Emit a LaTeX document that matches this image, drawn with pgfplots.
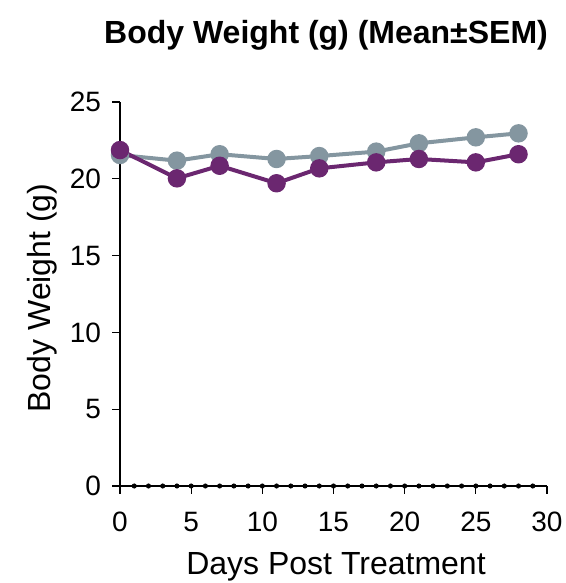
\documentclass[border=0pt]{standalone}
\usepackage{fontspec}
\setmainfont{Liberation Sans}
\usepackage{pgfplots}
\pgfplotsset{compat=1.18}
\definecolor{grayser}{HTML}{8496A0}
\definecolor{purpser}{HTML}{6B2770}
\begin{document}
\begin{tikzpicture}
\begin{axis}[
  at={(0pt,0pt)}, anchor=origin,
  scale only axis, width=213.5pt, height=192pt,
  xmin=0, xmax=30, ymin=0, ymax=25,
  axis x line*=bottom, axis y line*=left,
  axis line style={line width=0.6pt},
  xtick={0,5,...,30}, ytick={0,5,...,25},
  tick align=outside, major tick length=4pt,
  tick style={line width=0.6pt, black},
  tick label style={font=\fontsize{14}{16}\selectfont},
  xticklabel style={yshift=-5.5pt},
  yticklabel style={xshift=-2pt},
  /pgf/number format/assume math mode=true,
  clip=false,
]
% integer markers along the x axis
\addplot[only marks, mark=*, mark size=1.05pt, black] coordinates {
 (1,0)(2,0)(3,0)(4,0)(5,0)(6,0)(7,0)(8,0)(9,0)(10,0)(11,0)(12,0)(13,0)(14,0)(15,0)
 (16,0)(17,0)(18,0)(19,0)(20,0)(21,0)(22,0)(23,0)(24,0)(25,0)(26,0)(27,0)(28,0)(29,0)};
\addplot[grayser, line width=2pt, mark=*, mark size=3.6pt, mark options={fill=grayser, draw=grayser}] coordinates {
 (0,21.55)(4,21.18)(7,21.6)(11,21.29)(14,21.48)(18,21.77)(21,22.31)(25,22.7)(28,22.96)};
\addplot[purpser, line width=2pt, mark=*, mark size=3.6pt, mark options={fill=purpser, draw=purpser}] coordinates {
 (0,21.87)(4,20.03)(7,20.85)(11,19.71)(14,20.68)(18,21.07)(21,21.29)(25,21.07)(28,21.6)};
\end{axis}
\node at (103pt,225.5pt) {\fontsize{16}{18}\selectfont\bfseries Body Weight (g) (Mean±SEM)};
\node at (108pt,-40.5pt) {\fontsize{16}{18}\selectfont Days Post Treatment};
\node[rotate=90] at (-38.75pt,94pt) {\fontsize{16}{18}\selectfont Body Weight (g)};
\pgfresetboundingbox
\path[use as bounding box] (-60pt,-48.5pt) rectangle (223pt,243pt);
\end{tikzpicture}
\end{document}
